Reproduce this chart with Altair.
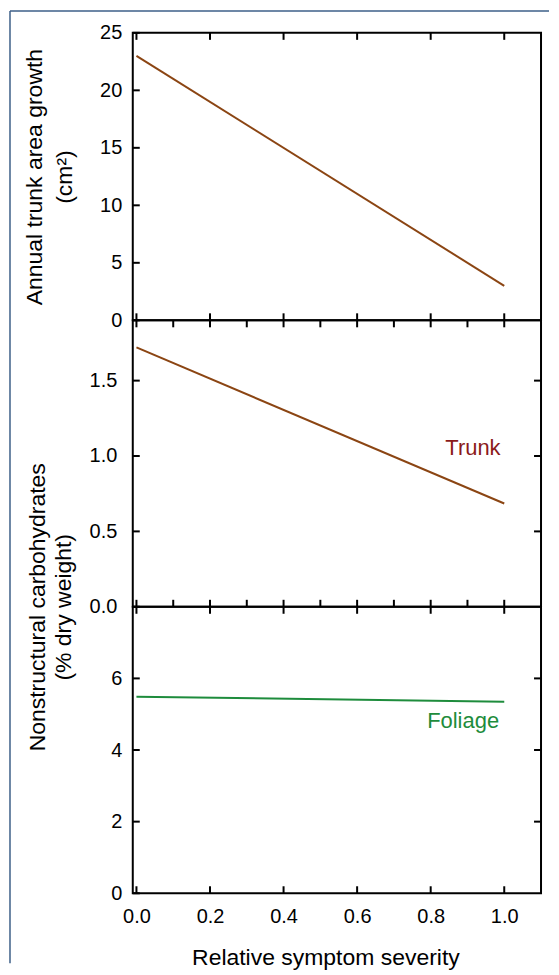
import altair as alt
import pandas as pd

# ---- data ----
severity = [0.0, 1.0]
trunk_growth = [23.0, 3.0]
trunk_nsc = [1.72, 0.685]
foliage_nsc = [5.49, 5.35]

x_major = [0.0, 0.2, 0.4, 0.6, 0.8, 1.0]
x_minor = [0.0, 0.1, 0.2, 0.3, 0.4, 0.5, 0.6, 0.7, 0.8, 0.9, 1.0]
y1_ticks = [0, 5, 10, 15, 20, 25]
y2_ticks = [0.0, 0.5, 1.0, 1.5]
y3_ticks = [0, 2, 4, 6]

x_domain = [-0.01, 1.1]
y1_domain = [0, 25]
y2_domain = [0, 1.9]
y3_domain = [0, 8]

label_text = ["Trunk", "Foliage"]
label_x = [0.99, 0.986]
label_y = [1.01, 4.62]

BROWN = "#8B4513"
DARKRED = "#8B1A1A"
GREEN = "#1E8C3C"
FRAME = "#3D5F88"
FONT = "Liberation Sans"
W = 409
TICK = 7
LABEL_SIZE = 20
TITLE_SIZE = 23


def xscale():
    return alt.Scale(domain=x_domain, nice=False, zero=False)


def yaxis(vals, fmt, title, title_x, title_y, line_h, pad):
    return alt.Axis(values=vals, format=fmt, ticks=False, tickSize=0, domain=False,
                    grid=False, labelFontSize=LABEL_SIZE, labelPadding=pad, labelColor="black",
                    labelFlush=False, title=title, titleFontSize=TITLE_SIZE,
                    titleFontWeight="normal", titleColor="black", titleX=title_x,
                    titleY=title_y, titleLineHeight=line_h)


def panel(H, yvals, ydomain, color, y_ax, x_ax, ticks_spec, label=None, frame=False):
    ys = alt.Scale(domain=ydomain, nice=False, zero=False)

    def X(field):
        return alt.X(field, scale=xscale(), axis=x_ax, title=None)

    def Y(field):
        return alt.Y(field, scale=ys, axis=y_ax, title=None)

    df = pd.DataFrame({"x": severity, "y": yvals})
    line = alt.Chart(df).mark_line(color=color, strokeWidth=2).encode(x=X("x:Q"), y=Y("y:Q"))
    layers = [line]
    for side, vals in ticks_spec:
        tdf = pd.DataFrame({"t": vals})
        base = alt.Chart(tdf).mark_rule(color="black", strokeWidth=2)
        if side == "left":
            layers.append(base.encode(y=Y("t:Q"), x=alt.value(0), x2=alt.value(TICK)))
        elif side == "right":
            layers.append(base.encode(y=Y("t:Q"), x=alt.value(W), x2=alt.value(W - TICK)))
        elif side == "top":
            layers.append(base.encode(x=X("t:Q"), y=alt.value(0), y2=alt.value(TICK)))
        else:
            layers.append(base.encode(x=X("t:Q"), y=alt.value(H), y2=alt.value(H - TICK)))
    if label is not None:
        i, col = label
        ldf = pd.DataFrame({"x": [label_x[i]], "y": [label_y[i]], "text": [label_text[i]]})
        layers.append(
            alt.Chart(ldf).mark_text(align="right", baseline="alphabetic", fontSize=22, color=col).encode(
                x=X("x:Q"), y=Y("y:Q"), text="text:N"
            )
        )
    if frame:
        fdf = pd.DataFrame({"k": [0]})
        layers.append(alt.Chart(fdf).mark_rule(color=FRAME, strokeWidth=1.5).encode(
            x=alt.value(-123), x2=alt.value(W + 8), y=alt.value(-22)))
        layers.append(alt.Chart(fdf).mark_rule(color=FRAME, strokeWidth=1.5).encode(
            x=alt.value(-123), y=alt.value(-22), y2=alt.value(932)))
    return alt.layer(*layers).properties(width=W, height=H)


p1 = panel(
    288, trunk_growth, y1_domain, BROWN,
    yaxis(y1_ticks, "d", ["Annual trunk area growth", "(cm²)"], -86, 144, 30, 11),
    None,
    [("left", y1_ticks), ("top", x_major), ("bottom", x_major)],
    frame=True,
)

p2 = panel(
    287, trunk_nsc, y2_domain, BROWN,
    yaxis(y2_ticks, ".1f", ["Nonstructural carbohydrates", "(% dry weight)"], -83, 287, 26, 16),
    None,
    [("left", y2_ticks), ("right", y2_ticks[1:]), ("top", x_minor), ("bottom", x_minor)],
    label=(0, DARKRED),
)

x_ax = alt.Axis(values=x_major, format=".1f", ticks=False, tickSize=0, domain=False, grid=False,
                labelFontSize=LABEL_SIZE, labelPadding=13, labelColor="black", labelFlush=False,
                title="Relative symptom severity", titleFontSize=TITLE_SIZE, titleFontWeight="normal",
                titleColor="black", titleX=193, titleY=71, titleBaseline="alphabetic")

p3 = panel(
    287, foliage_nsc, y3_domain, GREEN,
    yaxis(y3_ticks, "d", "", -86, 143, 26, 11),
    x_ax,
    [("left", y3_ticks), ("right", y3_ticks[1:]), ("top", x_major), ("bottom", x_major)],
    label=(1, GREEN),
)

chart = (
    alt.vconcat(p1, p2, p3, spacing=0, bounds="flush", padding=0)
    .configure(font=FONT)
    .configure_view(stroke="black", strokeWidth=2)
)

chart.save("out.html", embed_options={"renderer": "svg", "actions": False})
